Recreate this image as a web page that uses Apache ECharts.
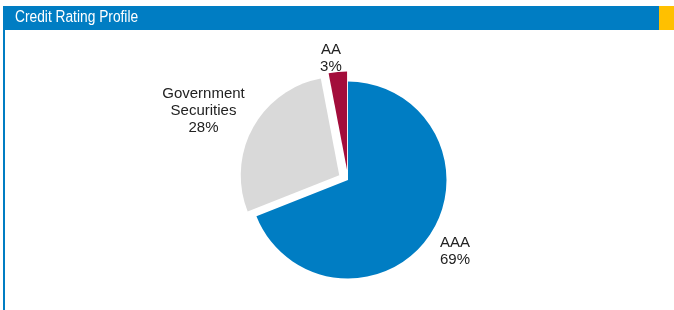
<!DOCTYPE html>
<html>
<head>
<meta charset="utf-8">
<script src="https://cdn.jsdelivr.net/npm/echarts@6/dist/echarts.min.js"></script>
<style>
  html, body { margin: 0; padding: 0; background: #fff; }
  #chart { width: 674px; height: 310px; }
</style>
</head>
<body>
<div id="chart"></div>
<script>
  // credit rating split, clockwise from 12 o'clock
  var ratings = ['AAA', 'Government\nSecurities', 'AA'];
  var shares = [69, 28, 3];
  var colors = ['#007DC3', '#D9D9D9', '#A30D3B'];
  var exploded = [false, true, true];

  // label placement: radial distance past the rim, and gap to the chart edge
  var labelReach = [29, 35, 14];
  var labelEdge = [204, 171, 321];

  var mychart = echarts.init(document.getElementById('chart'));
  var pieData = ratings.map(function (name, i) {
    return {
      name: name,
      value: shares[i],
      selected: exploded[i],
      itemStyle: { color: colors[i] },
      label: { edgeDistance: labelEdge[i] },
      labelLine: { length: labelReach[i], length2: 0 }
    };
  });

  var option = {
    animation: false,
    graphic: [
      { type: 'rect', shape: { x: 3, y: 6, width: 656, height: 24 }, style: { fill: '#007DC3' } },
      { type: 'rect', shape: { x: 659, y: 6, width: 15, height: 24 }, style: { fill: '#FFC000' } },
      { type: 'rect', shape: { x: 3, y: 30, width: 2, height: 280 }, style: { fill: '#007DC3' } },
      {
        type: 'text', x: 15, y: 10, scaleX: 0.86,
        style: {
          text: 'Credit Rating Profile',
          fill: '#fff',
          font: '16px "Liberation Sans", Arial, sans-serif'
        }
      }
    ],
    series: [{
      type: 'pie',
      center: [348, 180],
      radius: 98.5,
      startAngle: 90,
      clockwise: true,
      selectedMode: 'multiple',
      selectedOffset: 10,
      avoidLabelOverlap: false,
      emphasis: { disabled: true },
      label: {
        show: true,
        position: 'outside',
        alignTo: 'edge',
        overflow: 'none',
        formatter: '{c|{b}}\n{c|{d}%}',
        rich: {
          c: {
            align: 'center',
            color: '#222',
            fontSize: 15,
            lineHeight: 17,
            fontFamily: '"Liberation Sans", Arial, sans-serif'
          }
        }
      },
      labelLine: { show: false },
      data: pieData
    }]
  };
  mychart.setOption(option);
</script>
</body>
</html>
